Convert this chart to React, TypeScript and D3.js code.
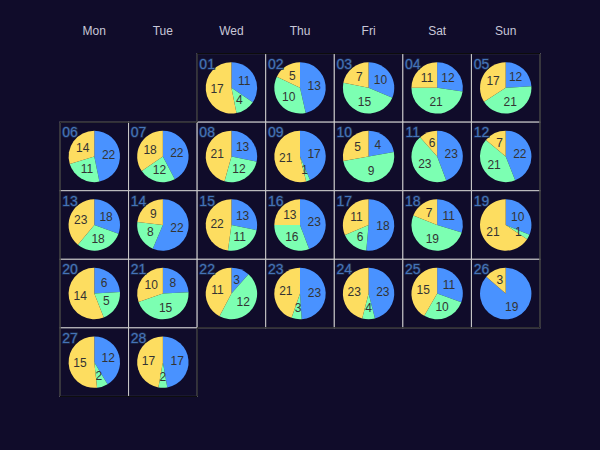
import React from "react";
import * as d3 from "d3";

const weekdays = ["Mon", "Tue", "Wed", "Thu", "Fri", "Sat", "Sun"];
const seriesNames = ["Work", "Entertainment", "Sleep"];
const seriesColors = ["#4992ff", "#7cffb2", "#fddd60"];
const firstWeekday = 2; // 2017-02-01 is a Wednesday
const days = Array.from({ length: 28 }, (_, i) => i + 1);
const work = [11, 13, 10, 12, 12, 22, 22, 13, 17, 4, 23, 22, 18, 22, 13, 23, 18, 11, 10, 6, 8, 3, 23, 23, 11, 19, 12, 17];
const entertainment = [4, 10, 15, 21, 21, 11, 12, 12, 1, 9, 23, 21, 18, 8, 11, 16, 6, 19, 1, 5, 15, 12, 3, 4, 10, 0, 2, 2];
const sleep = [17, 5, 7, 11, 17, 14, 18, 21, 21, 5, 6, 7, 23, 9, 22, 13, 11, 7, 21, 14, 10, 11, 21, 23, 15, 3, 15, 17];

const W = 600;
const H = 450;
const BG = "#100c2a";

export default function App() {
  const cell = 480 / 7;
  const nRows = Math.ceil((firstWeekday + days.length) / 7);
  const left = (W - cell * 7) / 2;
  const top = (H - cell * nRows) / 2;
  const x = d3.scaleBand<string>().domain(weekdays).range([left, left + cell * 7]);
  const y = d3.scaleBand<number>().domain(d3.range(nRows)).range([top, top + cell * nRows]);
  const r = 25.7;
  const pie = d3.pie<number>().sort(null).value((v) => v);
  const arc = d3.arc<d3.PieArcDatum<number>>().innerRadius(0).outerRadius(r);

  const pos = (d: number) => {
    const idx = d - 1 + firstWeekday;
    return { col: idx % 7, row: Math.floor(idx / 7) };
  };

  const first = pos(days[0]);
  const last = pos(days[days.length - 1]);
  const xs = (c: number) => left + c * cell;
  const ys = (rr: number) => top + rr * cell;
  const bottom = ys(last.row + 1);
  const outline: [number, number][] = [
    [xs(first.col), ys(0)],
    [xs(7), ys(0)],
    [xs(7), last.col === 6 ? bottom : ys(last.row)],
    [xs(last.col + 1), last.col === 6 ? bottom : ys(last.row)],
    [xs(last.col + 1), bottom],
    [xs(0), bottom],
    [xs(0), first.col > 0 ? ys(1) : ys(0)],
    [xs(first.col), first.col > 0 ? ys(1) : ys(0)],
  ];
  const outlinePath = d3.line()(outline) + "Z";

  return (
    <svg width={W} height={H} style={{ position: "absolute", left: 0, top: 0, display: "block" }}>
      <rect width={W} height={H} fill={BG} />
      {weekdays.map((wd) => (
        <text
          key={wd}
          x={(x(wd) as number) + x.bandwidth() / 2}
          y={top - 23}
          textAnchor="middle"
          dominantBaseline="central"
          fontFamily="Liberation Sans, Arial, sans-serif"
          fontSize={12}
          fill="#c8c7d8"
        >
          {wd}
        </text>
      ))}
      {days.map((d) => {
        const p = pos(d);
        return (
          <rect
            key={"c" + d}
            x={x(weekdays[p.col]) as number}
            y={y(p.row) as number}
            width={x.bandwidth()}
            height={y.bandwidth()}
            fill={BG}
            stroke="#cccccc"
            strokeWidth={1}
          />
        );
      })}
      <path d={outlinePath} fill="none" stroke="#000000" strokeWidth={1} />
      {days.map((d, i) => {
        const p = pos(d);
        const cx = (x(weekdays[p.col]) as number) + x.bandwidth() / 2;
        const cy = (y(p.row) as number) + y.bandwidth() / 2;
        const vals = [work[i], entertainment[i], sleep[i]];
        const arcs = pie(vals);
        return (
          <g key={"p" + d} transform={`translate(${cx},${cy})`}>
            {arcs.map((a, j) => (
              <path key={j} d={arc(a) || ""} fill={seriesColors[j]} />
            ))}
            {arcs.map((a, j) => {
              if (a.value === 0) return null;
              const m = (a.startAngle + a.endAngle) / 2;
              const lr = r * 0.56;
              return (
                <text
                  key={"t" + j}
                  x={Math.sin(m) * lr}
                  y={-Math.cos(m) * lr}
                  textAnchor="middle"
                  dominantBaseline="central"
                  fontFamily="Liberation Sans, Arial, sans-serif"
                  fontSize={12}
                  fill="#333333"
                >
                  {a.value}
                </text>
              );
            })}
            <text
              x={-cell / 2 + 10}
              y={-cell / 2 + 10}
              textAnchor="middle"
              dominantBaseline="central"
              fontFamily="Liberation Sans, Arial, sans-serif"
              fontSize={14}
              fill="#4673b8"
              stroke="#1c2a4d"
              strokeWidth={1.5}
              paintOrder="stroke"
            >
              {String(d).padStart(2, "0")}
            </text>
          </g>
        );
      })}
    </svg>
  );
}
